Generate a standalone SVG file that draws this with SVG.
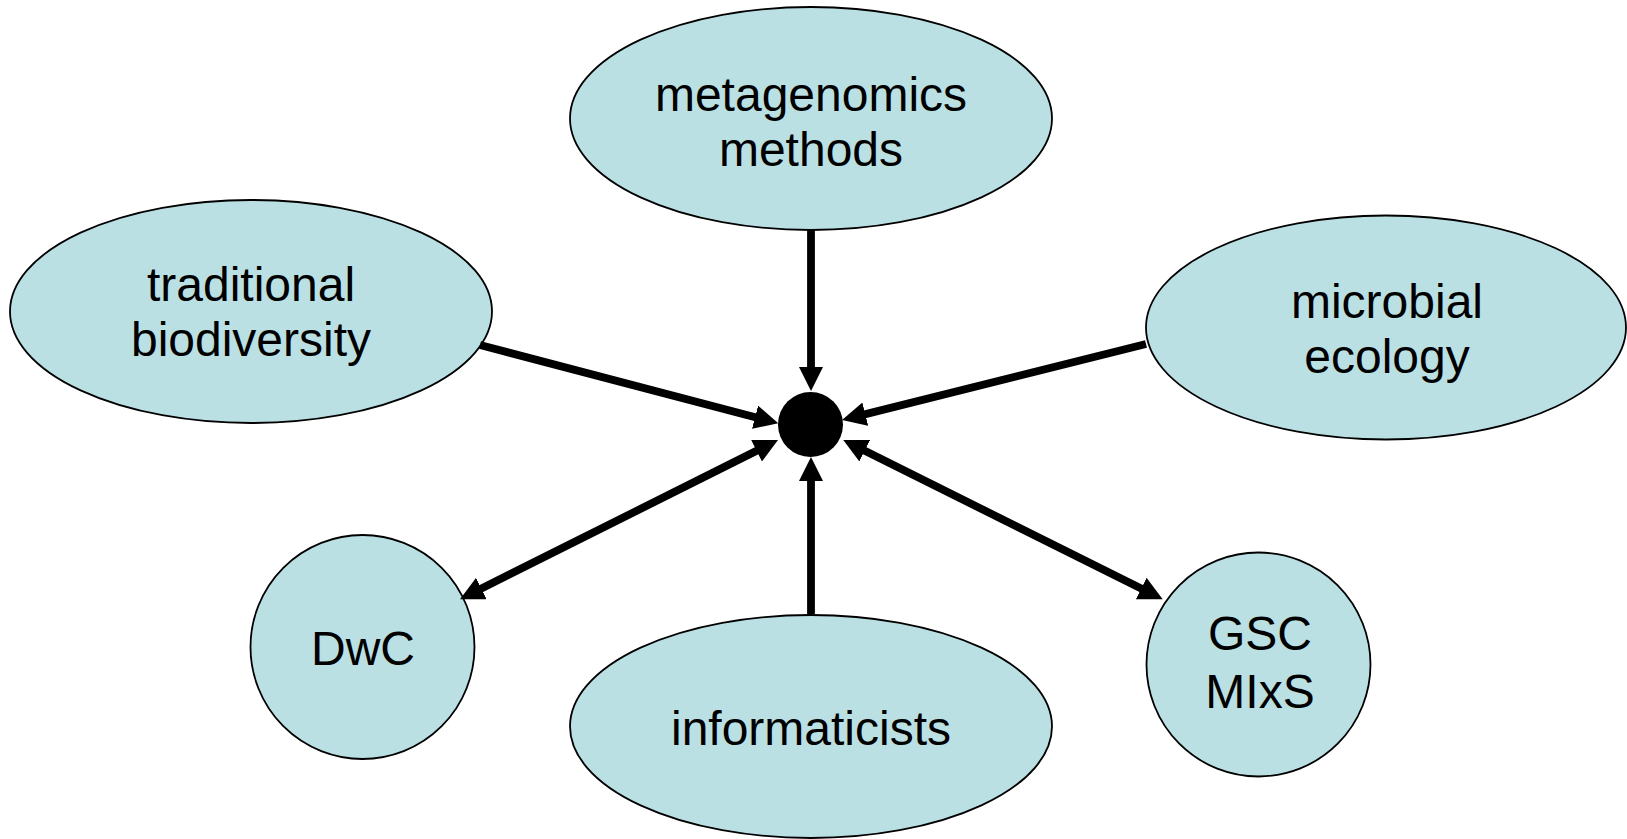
<svg xmlns="http://www.w3.org/2000/svg" width="1627" height="839" viewBox="0 0 1627 839">
<style>
.node{fill:#BAE0E4;stroke:#000;stroke-width:1.8}
.lbl{font-family:"Liberation Sans",Arial,sans-serif;font-size:48px;fill:#000;text-anchor:middle}
.conn{stroke:#000;stroke-width:7.8;fill:none}
</style>
<defs>
<marker id="ah" markerUnits="userSpaceOnUse" markerWidth="24" markerHeight="24" viewBox="0 0 24 24" refX="10" refY="12" orient="auto-start-reverse">
<path d="M0,0 L24,12 L0,24 z" fill="#000"/>
</marker>
</defs>
<rect width="1627" height="839" fill="#fff"/>
<g id="metagenomics">
<ellipse class="node" cx="811" cy="118.5" rx="241" ry="111.5"/>
<text class="lbl" x="811" y="111">metagenomics</text>
<text class="lbl" x="811" y="166">methods</text>
</g>
<g id="traditional">
<ellipse class="node" cx="251" cy="311.5" rx="241" ry="111.5"/>
<text class="lbl" x="251" y="301">traditional</text>
<text class="lbl" x="251" y="356">biodiversity</text>
</g>
<g id="microbial">
<ellipse class="node" cx="1386" cy="327.5" rx="240" ry="112"/>
<text class="lbl" x="1387" y="318">microbial</text>
<text class="lbl" x="1387" y="373">ecology</text>
</g>
<g id="informaticists">
<ellipse class="node" cx="811" cy="726.5" rx="241" ry="111.5"/>
<text class="lbl" x="811" y="745">informaticists</text>
</g>
<g id="dwc">
<circle class="node" cx="362.5" cy="647" r="112"/>
<text class="lbl" x="363" y="665">DwC</text>
</g>
<g id="gsc">
<circle class="node" cx="1258.5" cy="664.5" r="112"/>
<text class="lbl" x="1260" y="650">GSC</text>
<text class="lbl" x="1260" y="708">MIxS</text>
</g>
<g id="hub">
<circle cx="810.5" cy="424.5" r="32.5" fill="#000"/>
</g>
<g id="connectors">
<line class="conn" x1="811" y1="230" x2="811" y2="377" marker-end="url(#ah)"/>
<line class="conn" x1="811" y1="614" x2="811" y2="471" marker-end="url(#ah)"/>
<line class="conn" x1="480" y1="345" x2="764.7" y2="419.8" marker-end="url(#ah)"/>
<line class="conn" x1="1146" y1="344" x2="855.6" y2="416.6" marker-end="url(#ah)"/>
<line class="conn" x1="765.5" y1="446.3" x2="472.5" y2="593" marker-start="url(#ah)" marker-end="url(#ah)"/>
<line class="conn" x1="855.8" y1="446.3" x2="1150.2" y2="593" marker-start="url(#ah)" marker-end="url(#ah)"/>
</g>
</svg>
